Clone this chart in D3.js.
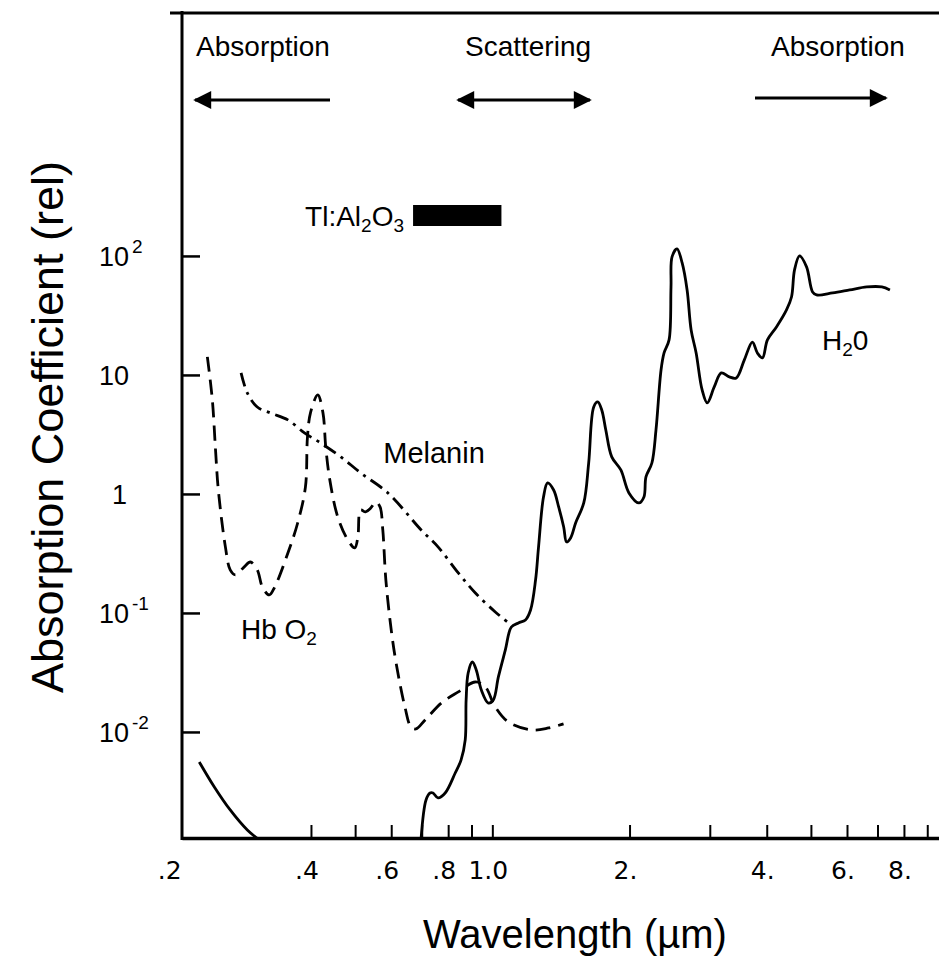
<!DOCTYPE html>
<html lang="en">
    <head>
        <meta charset="utf-8">
        <title>Absorption coefficient</title>
        <script src="https://d3js.org/d3.v7.min.js"></script>
        <style>
            body { margin: 0; background: #fff; }
            text { font-family: "Liberation Sans", Arial, sans-serif; fill: #000; }
            .tick-label { font-family: "DejaVu Sans", sans-serif; font-size: 25px; }
            .y-label { font-family: "Liberation Sans", Arial, sans-serif; font-size: 27px; }
        </style>
    </head>
    <body>
        <script type="text/javascript">
            // wavelength (um) / relative absorption
            const hbWave = [0.237, 0.243, 0.247, 0.2505, 0.2596, 0.266, 0.273, 0.2856, 0.2945, 0.305, 0.313, 0.324, 0.333, 0.356, 0.374, 0.389, 0.393, 0.399, 0.414, 0.425, 0.431, 0.440, 0.458, 0.482, 0.499, 0.507, 0.514, 0.527, 0.541, 0.555, 0.567, 0.575, 0.584, 0.600, 0.615, 0.643, 0.663, 0.680, 0.712, 0.773, 0.842, 0.918, 0.965, 1.015, 1.085, 1.219, 1.328, 1.433];
            const hbValue = [14.2, 6.2, 2.34, 1.08, 0.359, 0.230, 0.209, 0.244, 0.268, 0.230, 0.165, 0.1416, 0.165, 0.319, 0.570, 1.146, 3.01, 4.8, 6.79, 4.8, 2.48, 1.31, 0.641, 0.410, 0.352, 0.435, 0.734, 0.706, 0.763, 0.857, 0.778, 0.498, 0.189, 0.072, 0.038, 0.0162, 0.0110, 0.0106, 0.0126, 0.0175, 0.0217, 0.0263, 0.0239, 0.0162, 0.0121, 0.0104, 0.0108, 0.0117];

            const melWave = [0.281, 0.290, 0.305, 0.326, 0.356, 0.387, 0.420, 0.465, 0.5145, 0.590, 0.698, 0.760, 0.842, 0.918, 1.015, 1.101];
            const melValue = [10.4, 7.06, 5.38, 4.79, 4.19, 3.26, 2.68, 2.05, 1.50, 1.02, 0.498, 0.359, 0.217, 0.147, 0.102, 0.0792];

            const h2oWave = [0.6975, 0.7153, 0.730, 0.741, 0.760, 0.788, 0.829, 0.854, 0.872, 0.876, 0.885, 0.904, 0.922, 0.946, 0.980, 1.005, 1.031, 1.068, 1.101, 1.141, 1.182, 1.213, 1.244, 1.263, 1.295, 1.322, 1.363, 1.398, 1.434, 1.455, 1.485, 1.523, 1.587, 1.627, 1.669, 1.703, 1.738, 1.774, 1.828, 1.914, 1.994, 2.097, 2.151, 2.173, 2.239, 2.286, 2.345, 2.381, 2.442, 2.466, 2.479, 2.542, 2.609, 2.675, 2.730, 2.800, 2.886, 2.961, 3.068, 3.179, 3.311, 3.429, 3.572, 3.720, 3.815, 3.914, 4.014, 4.201, 4.420, 4.533, 4.603, 4.721, 4.891, 5.042, 5.146, 5.580, 6.083, 6.632, 7.155, 7.452];
            const h2oValue = [0.00125, 0.00268, 0.00307, 0.00307, 0.00279, 0.00307, 0.00452, 0.00582, 0.00857, 0.0186, 0.0313, 0.0387, 0.0332, 0.0225, 0.0175, 0.0186, 0.029, 0.0489, 0.0762, 0.0824, 0.0873, 0.106, 0.189, 0.359, 0.944, 1.24, 1.08, 0.778, 0.528, 0.395, 0.427, 0.570, 0.840, 1.82, 5.38, 5.93, 5.08, 3.45, 2.05, 1.59, 1.02, 0.840, 0.944, 1.39, 1.82, 3.45, 11.0, 15.3, 19.7, 54.9, 98.1, 114.5, 87.3, 51.8, 23.9, 15.3, 7.48, 5.82, 7.93, 10.4, 9.62, 9.44, 13.4, 18.9, 15.3, 13.9, 19.7, 25.3, 35.2, 45.2, 76.3, 100, 80.9, 49.8, 47.0, 48.9, 51.8, 54.9, 54.9, 51.8];

            const uvWave = [0.2275, 0.2455, 0.266, 0.290, 0.308];
            const uvValue = [0.0056, 0.00345, 0.00221, 0.0015, 0.00124];

            const laserBand = [0.67, 1.047];

            const xTicks = [0.4, 0.5, 0.6, 0.7, 0.8, 0.9, 1, 2, 3, 4, 5, 6, 7, 8, 9];
            const xLabelValues = [0.2, 0.4, 0.6, 0.8, 1.0, 2, 4, 6, 8];
            const xLabelText = [".2", ".4", ".6", ".8", "1.0", "2.", "4.", "6.", "8."];
            const yTicks = [100, 10, 1, 0.1, 0.01];
            const yLabelBase = ["10", "10", "1", "10", "10"];
            const yLabelExp = ["2", "", "", "-1", "-2"];

            var width = 939,
                height = 973,
                plotLeft = 182,
                plotRight = 939,
                plotTop = 13,
                plotBottom = 838;

            var svg = d3.select("body").append("svg")
                .attr("width", width)
                .attr("height", height);

            var x = d3.scaleLog().domain([0.2085, 9.55]).range([plotLeft, plotRight]);
            var y = d3.scaleLog().domain([0.001285, 11000]).range([plotBottom, plotTop]);

            svg.append("clipPath").attr("id", "plot")
                .append("rect")
                .attr("x", plotLeft).attr("y", plotTop)
                .attr("width", plotRight - plotLeft).attr("height", plotBottom - plotTop);

            var line = d3.line()
                .x(d => x(d[0]))
                .y(d => y(d[1]))
                .curve(d3.curveCatmullRom.alpha(0.5));

            var curves = svg.append("g").attr("clip-path", "url(#plot)")
                .attr("fill", "none")
                .attr("stroke", "#000")
                .attr("stroke-width", 2.8)
                .attr("stroke-linejoin", "round");

            curves.append("path")
                .attr("d", line(d3.zip(hbWave, hbValue)))
                .attr("stroke-dasharray", "15,8");

            curves.append("path")
                .attr("d", line(d3.zip(melWave, melValue)))
                .attr("stroke-dasharray", "14,6,3,6");

            curves.append("path")
                .attr("d", line(d3.zip(h2oWave, h2oValue)));

            curves.append("path")
                .attr("d", line(d3.zip(uvWave, uvValue)));

            // frame
            svg.append("line")
                .attr("x1", plotLeft).attr("y1", plotTop - 2)
                .attr("x2", plotLeft).attr("y2", plotBottom + 2)
                .attr("stroke", "#000").attr("stroke-width", 3);
            svg.append("line")
                .attr("x1", plotLeft - 12).attr("y1", plotTop)
                .attr("x2", plotRight).attr("y2", plotTop)
                .attr("stroke", "#000").attr("stroke-width", 3);

            // x axis
            var xAxis = svg.append("g")
                .attr("transform", "translate(0," + plotBottom + ")")
                .call(d3.axisBottom(x).tickValues(xTicks).tickSizeInner(-13).tickSizeOuter(0).tickFormat(""));
            xAxis.select(".domain").attr("stroke-width", 3.5);
            xAxis.selectAll(".tick line").attr("stroke-width", 2);

            svg.append("g").selectAll("text")
                .data(xLabelValues)
                .join("text")
                .attr("class", "tick-label")
                .attr("x", d => x(d) - 4)
                .attr("y", plotBottom + 41)
                .attr("text-anchor", "middle")
                .text((d, i) => xLabelText[i]);

            // y axis
            var yAxis = svg.append("g")
                .attr("transform", "translate(" + plotLeft + ",0)")
                .call(d3.axisLeft(y).tickValues(yTicks).tickSizeInner(-18).tickSizeOuter(0).tickFormat(""));
            yAxis.select(".domain").remove();
            yAxis.selectAll(".tick line").attr("stroke-width", 2.5);

            var yLab = svg.append("g").selectAll("text")
                .data(yTicks)
                .join("text")
                .attr("class", "y-label")
                .attr("x", (d, i) => yLabelBase[i] === "1" ? 112 : 99)
                .attr("y", d => y(d) + 10);
            yLab.append("tspan").text((d, i) => yLabelBase[i]);
            yLab.append("tspan")
                .attr("dy", -13)
                .attr("dx", 3)
                .style("font-size", "19px")
                .text((d, i) => yLabelExp[i]);

            // axis titles
            svg.append("text")
                .attr("x", 575)
                .attr("y", 948)
                .attr("text-anchor", "middle")
                .style("font-size", "40px")
                .text("Wavelength (\u00b5m)");

            svg.append("text")
                .attr("transform", "translate(63,427) rotate(-90)")
                .attr("text-anchor", "middle")
                .style("font-size", "45px")
                .text("Absorption Coefficient (rel)");

            // region annotations
            var marker = svg.append("defs").append("marker")
                .attr("id", "head")
                .attr("viewBox", "0 0 10 10")
                .attr("refX", 9).attr("refY", 5)
                .attr("markerUnits", "userSpaceOnUse")
                .attr("markerWidth", 26).attr("markerHeight", 18)
                .attr("orient", "auto-start-reverse");
            marker.append("path").attr("d", "M0,0L10,5L0,10Z").attr("fill", "#000");

            var notes = svg.append("g").style("font-size", "28px");
            notes.append("text").attr("x", 263).attr("y", 56).attr("text-anchor", "middle").text("Absorption");
            notes.append("text").attr("x", 528).attr("y", 56).attr("text-anchor", "middle").text("Scattering");
            notes.append("text").attr("x", 838).attr("y", 56).attr("text-anchor", "middle").text("Absorption");

            svg.append("line").attr("x1", 330).attr("y1", 100).attr("x2", 195).attr("y2", 100)
                .attr("stroke", "#000").attr("stroke-width", 3).attr("marker-end", "url(#head)");
            svg.append("line").attr("x1", 458).attr("y1", 100).attr("x2", 590).attr("y2", 100)
                .attr("stroke", "#000").attr("stroke-width", 3)
                .attr("marker-start", "url(#head)").attr("marker-end", "url(#head)");
            svg.append("line").attr("x1", 755).attr("y1", 98).attr("x2", 886).attr("y2", 98)
                .attr("stroke", "#000").attr("stroke-width", 3).attr("marker-end", "url(#head)");

            // laser band
            svg.append("rect")
                .attr("x", x(laserBand[0]))
                .attr("y", 205)
                .attr("width", x(laserBand[1]) - x(laserBand[0]))
                .attr("height", 21)
                .attr("fill", "#000");

            var lab = svg.append("text").attr("x", 404).attr("y", 226)
                .attr("text-anchor", "end").style("font-size", "28px");
            lab.append("tspan").text("Tl:Al");
            lab.append("tspan").attr("dy", 6).style("font-size", "19px").text("2");
            lab.append("tspan").attr("dy", -6).text("O");
            lab.append("tspan").attr("dy", 6).style("font-size", "19px").text("3");

            // curve labels
            svg.append("text").attr("x", 434).attr("y", 463).attr("text-anchor", "middle")
                .style("font-size", "29px").text("Melanin");

            var hb = svg.append("text").attr("x", 241).attr("y", 639).style("font-size", "28px");
            hb.append("tspan").text("Hb O");
            hb.append("tspan").attr("dy", 6).style("font-size", "19px").text("2");

            var h2o = svg.append("text").attr("x", 822).attr("y", 350).style("font-size", "28px");
            h2o.append("tspan").text("H");
            h2o.append("tspan").attr("dy", 6).style("font-size", "19px").text("2");
            h2o.append("tspan").attr("dy", -6).text("0");
        </script>
    </body>
</html>
